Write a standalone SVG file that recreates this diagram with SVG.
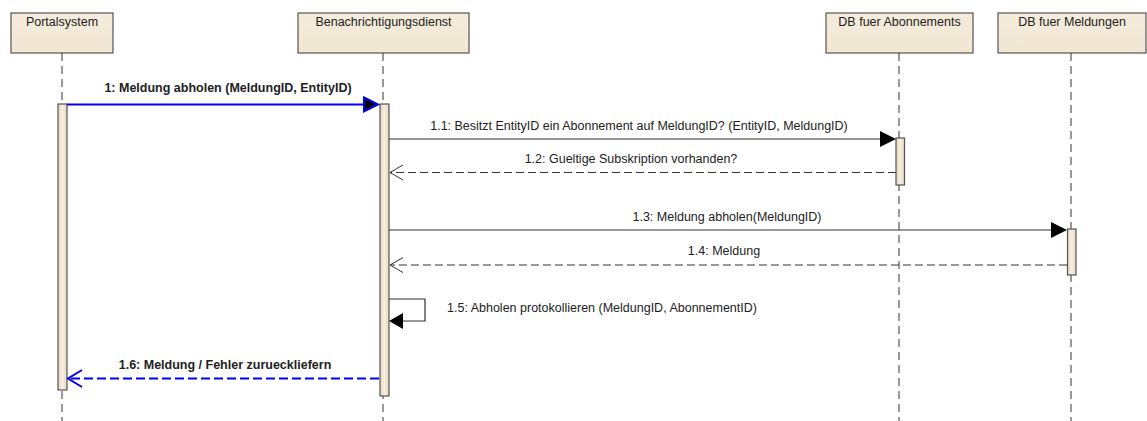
<svg xmlns="http://www.w3.org/2000/svg" width="1147" height="421" viewBox="0 0 1147 421">
  <defs>
    <linearGradient id="headFill" x1="0" y1="0" x2="0" y2="1">
      <stop offset="0" stop-color="#f5ecdd"/>
      <stop offset="1" stop-color="#f1e6d2"/>
    </linearGradient>
    <linearGradient id="barFill" x1="0" y1="0" x2="1" y2="0">
      <stop offset="0" stop-color="#e6d8bf"/>
      <stop offset="0.5" stop-color="#f6eedf"/>
      <stop offset="1" stop-color="#e6d8bf"/>
    </linearGradient>
  </defs>
  <style>
    .head { fill: url(#headFill); stroke: #555; stroke-width: 1.2; }
    .life { stroke: #333; stroke-width: 1; stroke-dasharray: 8 5; fill: none; }
    .bar { fill: url(#barFill); stroke: #555; stroke-width: 1.2; }
    .name { font-family: "Liberation Sans", Arial, sans-serif; font-size: 12.5px; fill: #222; text-anchor: middle; }
    .lbl { font-family: "Liberation Sans", Arial, sans-serif; font-size: 12.5px; fill: #222; text-anchor: middle; }
    .lblb { font-family: "Liberation Sans", Arial, sans-serif; font-size: 12.5px; font-weight: bold; fill: #222; text-anchor: middle; }
    .call { stroke: #333; stroke-width: 1.2; fill: none; }
    .ret { stroke: #333; stroke-width: 1; stroke-dasharray: 8 4; fill: none; }
    .bcall { stroke: #0000ee; stroke-width: 2; fill: none; }
    .bret { stroke: #0000ee; stroke-width: 2; stroke-dasharray: 9 4; fill: none; }
    .head-fill { fill: #000; stroke: none; }
    .head-blue { fill: #000; stroke: #0000ee; stroke-width: 2; stroke-linejoin: miter; }
    .open { fill: none; stroke: #333; stroke-width: 1; }
    .open-blue { fill: none; stroke: #0000ee; stroke-width: 2; }
  </style>

  <!-- lifeline: Portalsystem -->
  <g id="portalsystem">
    <rect class="head" x="11" y="13" width="102" height="40"/>
    <text class="name" x="62" y="26">Portalsystem</text>
    <line class="life" x1="62" y1="53" x2="62" y2="421"/>
    <rect class="bar" x="58" y="104" width="9" height="286"/>
  </g>

  <!-- lifeline: Benachrichtigungsdienst -->
  <g id="benachrichtigungsdienst">
    <rect class="head" x="298" y="13" width="171" height="40"/>
    <text class="name" x="383.5" y="26">Benachrichtigungsdienst</text>
    <line class="life" x1="383" y1="53" x2="383" y2="421"/>
    <rect class="bar" x="380" y="104" width="9" height="292"/>
  </g>

  <!-- lifeline: DB fuer Abonnements -->
  <g id="db-abonnements">
    <rect class="head" x="826" y="13" width="147" height="40"/>
    <text class="name" x="899.5" y="26">DB fuer Abonnements</text>
    <line class="life" x1="899" y1="53" x2="899" y2="421"/>
    <rect class="bar" x="896" y="138" width="8.5" height="47"/>
  </g>

  <!-- lifeline: DB fuer Meldungen -->
  <g id="db-meldungen">
    <rect class="head" x="998" y="13" width="148" height="40"/>
    <text class="name" x="1072" y="26">DB fuer Meldungen</text>
    <line class="life" x1="1071" y1="53" x2="1071" y2="421"/>
    <rect class="bar" x="1067.5" y="229" width="8.5" height="46"/>
  </g>

  <!-- messages -->
  <g id="connectors">
    <!-- 1 -->
    <line class="bcall" x1="67" y1="104.5" x2="364" y2="104.5"/>
    <polygon class="head-blue" points="364,97.5 378,104.5 364,111.5"/>
    <text class="lblb" x="228" y="92">1: Meldung abholen (MeldungID, EntityID)</text>

    <!-- 1.1 -->
    <line class="call" x1="389" y1="139" x2="882" y2="139"/>
    <polygon class="head-fill" points="880,131 896,139 880,147"/>
    <text class="lbl" x="639" y="130">1.1: Besitzt EntityID ein Abonnement auf MeldungID? (EntityID, MeldungID)</text>

    <!-- 1.2 -->
    <line class="ret" x1="896" y1="172.5" x2="390" y2="172.5"/>
    <polyline class="open" points="403,165 390,172.5 403,180"/>
    <text class="lbl" x="631" y="163">1.2: Gueltige Subskription vorhanden?</text>

    <!-- 1.3 -->
    <line class="call" x1="389" y1="230" x2="1053" y2="230"/>
    <polygon class="head-fill" points="1051,222 1067,230 1051,238"/>
    <text class="lbl" x="727" y="221">1.3: Meldung abholen(MeldungID)</text>

    <!-- 1.4 -->
    <line class="ret" x1="1067" y1="265" x2="390" y2="265"/>
    <polyline class="open" points="403,257.5 390,265 403,272.5"/>
    <text class="lbl" x="724" y="255">1.4: Meldung</text>

    <!-- 1.5 self call -->
    <polyline class="call" points="389,299 425,299 425,321 402,321"/>
    <polygon class="head-fill" points="403,313 389,321 403,329"/>
    <text class="lbl" x="602" y="312">1.5: Abholen protokollieren (MeldungID, AbonnementID)</text>

    <!-- 1.6 -->
    <line class="bret" x1="379" y1="378.5" x2="69" y2="378.5"/>
    <polyline class="open-blue" points="82,370 68,378.5 82,387"/>
    <text class="lblb" x="225" y="369">1.6: Meldung / Fehler zurueckliefern</text>
  </g>
</svg>
